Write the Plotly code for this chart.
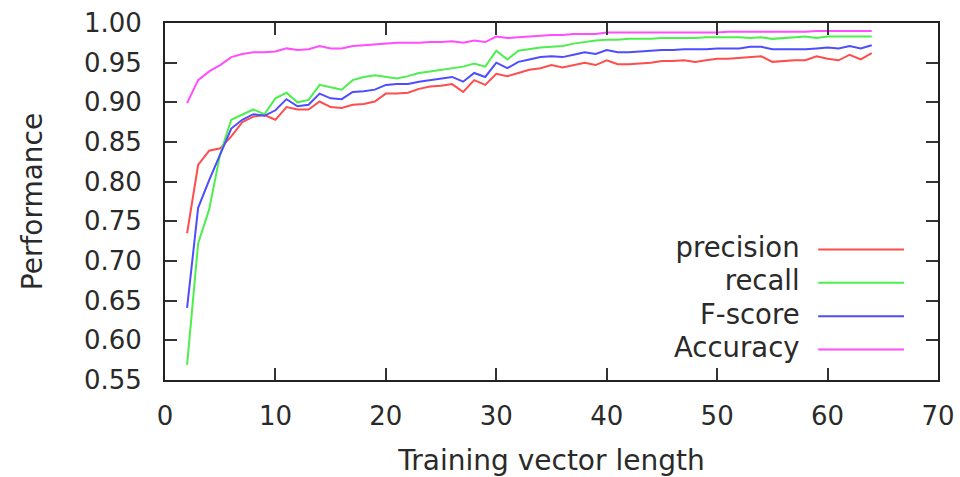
import plotly.graph_objects as go

x_vals = list(range(2, 65))

precision = [0.735, 0.821, 0.839, 0.842, 0.857, 0.875, 0.882, 0.884, 0.878, 0.894,
             0.891, 0.891, 0.901, 0.894, 0.893, 0.897, 0.898, 0.901, 0.911, 0.911,
             0.912, 0.917, 0.920, 0.921, 0.923, 0.913, 0.928, 0.922, 0.936, 0.933,
             0.937, 0.941, 0.943, 0.947, 0.944, 0.947, 0.950, 0.947, 0.953, 0.948,
             0.948, 0.949, 0.950, 0.952, 0.952, 0.953, 0.951, 0.953, 0.955, 0.955,
             0.956, 0.957, 0.958, 0.951, 0.952, 0.953, 0.953, 0.958, 0.955, 0.953,
             0.960, 0.954, 0.962]

recall = [0.569, 0.722, 0.765, 0.835, 0.878, 0.884, 0.891, 0.885, 0.905, 0.912,
          0.900, 0.903, 0.922, 0.919, 0.916, 0.928, 0.932, 0.934, 0.932, 0.930,
          0.933, 0.937, 0.939, 0.941, 0.943, 0.945, 0.949, 0.945, 0.965, 0.954,
          0.965, 0.967, 0.969, 0.970, 0.971, 0.974, 0.976, 0.978, 0.979, 0.979,
          0.980, 0.980, 0.980, 0.981, 0.981, 0.981, 0.981, 0.982, 0.982, 0.982,
          0.982, 0.981, 0.982, 0.980, 0.981, 0.982, 0.983, 0.981, 0.983, 0.983,
          0.983, 0.983, 0.983]

fscore = [0.641, 0.767, 0.802, 0.835, 0.867, 0.878, 0.885, 0.883, 0.890, 0.904,
          0.895, 0.897, 0.911, 0.905, 0.904, 0.913, 0.914, 0.916, 0.922, 0.923,
          0.923, 0.926, 0.928, 0.930, 0.932, 0.926, 0.937, 0.932, 0.950, 0.943,
          0.951, 0.954, 0.957, 0.958, 0.957, 0.960, 0.963, 0.961, 0.966, 0.963,
          0.963, 0.964, 0.965, 0.966, 0.966, 0.967, 0.967, 0.967, 0.968, 0.968,
          0.968, 0.970, 0.970, 0.967, 0.967, 0.967, 0.967, 0.968, 0.969, 0.968,
          0.971, 0.968, 0.972]

accuracy = [0.899, 0.928, 0.939, 0.947, 0.957, 0.961, 0.963, 0.963, 0.964, 0.968,
            0.966, 0.967, 0.971, 0.968, 0.968, 0.971, 0.972, 0.973, 0.974, 0.975,
            0.975, 0.975, 0.976, 0.976, 0.977, 0.975, 0.978, 0.976, 0.983, 0.981,
            0.982, 0.983, 0.984, 0.985, 0.985, 0.986, 0.986, 0.986, 0.988, 0.988,
            0.988, 0.988, 0.988, 0.988, 0.988, 0.988, 0.988, 0.988, 0.988, 0.989,
            0.989, 0.989, 0.989, 0.989, 0.989, 0.989, 0.989, 0.990, 0.990, 0.990,
            0.990, 0.990, 0.990]

series_names = ["precision", "recall", "F-score", "Accuracy"]
series_values = [precision, recall, fscore, accuracy]
series_colors = ["#ff4d4d", "#4dee4d", "#4d4dff", "#ff4dff"]

x_ticks = [0, 10, 20, 30, 40, 50, 60, 70]
y_ticks = [0.55, 0.60, 0.65, 0.70, 0.75, 0.80, 0.85, 0.90, 0.95, 1.00]

FONT = "DejaVu Sans"
TICK_FS = 26
TITLE_FS = 28
TXT = "#2a2a2a"

fig = go.Figure()
for name, vals, col in zip(series_names, series_values, series_colors):
    fig.add_trace(go.Scatter(x=x_vals, y=vals, mode="lines", name=name,
                             line=dict(color=col, width=2), showlegend=False))

# legend drawn gnuplot-style: right-aligned text block followed by line samples
leg_y0 = 0.3655
leg_step = 0.0934
legend_text = "<br>".join(
    f'<span style="font-size:27.5px">{n}</span>' for n in series_names)
fig.add_annotation(x=0.8235, y=leg_y0 - 1.5 * leg_step + 0.006, xref="paper", yref="paper",
                   text=legend_text, align="right", showarrow=False,
                   xanchor="right", yanchor="middle",
                   font=dict(family=FONT, size=25.6, color=TXT))
for i, col in enumerate(series_colors):
    yy = leg_y0 - i * leg_step
    fig.add_shape(type="line", xref="paper", yref="paper",
                  x0=0.845, x1=0.956, y0=yy, y1=yy,
                  line=dict(color=col, width=2))

axis_common = dict(showline=True, linecolor="#222", linewidth=2, mirror="ticks",
                   ticks="inside", ticklen=12, tickwidth=2, tickcolor="#333",
                   showgrid=False, zeroline=False, automargin=False,
                   tickfont=dict(family=FONT, size=TICK_FS, color=TXT))

fig.update_xaxes(range=[0, 70], tickvals=x_ticks, ticklabelstandoff=12,
                 title=dict(text="Training vector length", standoff=21,
                            font=dict(family=FONT, size=TITLE_FS, color=TXT)),
                 **axis_common)
fig.update_yaxes(range=[0.55, 1.00], tickvals=y_ticks, tickformat=".2f",
                 ticklabelstandoff=16,
                 title=dict(text="Performance", standoff=33,
                            font=dict(family=FONT, size=TITLE_FS, color=TXT)),
                 **axis_common)

fig.update_layout(width=960, height=477, plot_bgcolor="white", paper_bgcolor="white",
                  margin=dict(l=165, r=22, t=23, b=97))

fig.write_html("out.html")
